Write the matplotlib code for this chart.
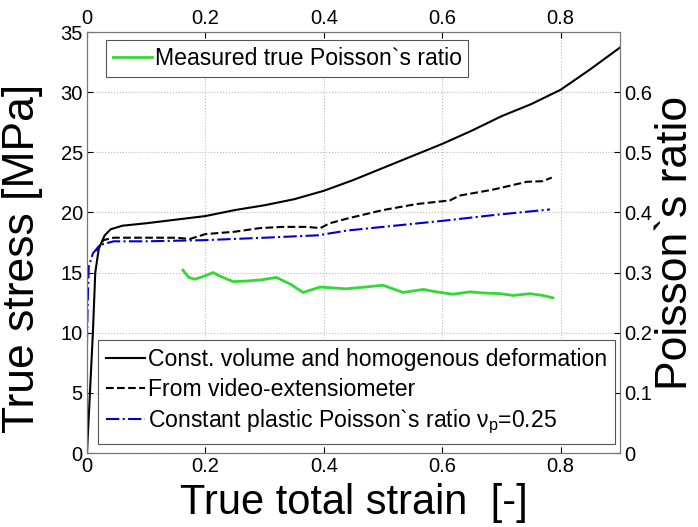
import matplotlib.pyplot as plt
import numpy as np

# dados
eps_cv = [0, 0.005, 0.01, 0.014, 0.02, 0.03, 0.04, 0.06, 0.1, 0.2, 0.25, 0.3, 0.35, 0.4,
          0.45, 0.5, 0.55, 0.6, 0.65, 0.7, 0.75, 0.8, 0.85, 0.9]
sig_cv = [0, 5, 10, 15, 17, 18.1, 18.6, 18.9, 19.1, 19.7, 20.2, 20.6, 21.1, 21.8,
          22.7, 23.7, 24.7, 25.7, 26.8, 28.0, 29.0, 30.2, 31.9, 33.7]

eps_video = [0.015, 0.028, 0.045, 0.1, 0.15, 0.174, 0.2, 0.25, 0.292, 0.33, 0.371,
             0.394, 0.41, 0.44, 0.5, 0.557, 0.613, 0.629, 0.686, 0.743, 0.77, 0.785]
sig_video = [16.8, 17.7, 17.9, 17.9, 17.9, 17.8, 18.2, 18.4, 18.7, 18.8, 18.8,
             18.7, 19.1, 19.5, 20.2, 20.7, 21.0, 21.4, 21.9, 22.55, 22.6, 22.9]

eps_nup = [0.0, 0.001, 0.003, 0.01, 0.022, 0.045, 0.1, 0.2, 0.3, 0.39, 0.44, 0.5, 0.6, 0.69, 0.782]
sig_nup = [9, 12, 15.5, 16.6, 17.3, 17.6, 17.6, 17.7, 17.9, 18.1, 18.5, 18.8, 19.3, 19.8, 20.25]

eps_nu = [0.162, 0.172, 0.182, 0.195, 0.213, 0.225, 0.247, 0.27, 0.295, 0.32, 0.345, 0.365,
          0.394, 0.438, 0.47, 0.5, 0.534, 0.568, 0.59, 0.618, 0.647, 0.67, 0.698, 0.72,
          0.748, 0.77, 0.787]
nu = [0.304, 0.292, 0.289, 0.293, 0.300, 0.294, 0.285, 0.286, 0.288, 0.292, 0.280, 0.267,
      0.276, 0.273, 0.276, 0.279, 0.267, 0.272, 0.268, 0.264, 0.268, 0.266, 0.265, 0.262,
      0.265, 0.262, 0.258]

plt.rcParams['font.family'] = 'Liberation Sans'
plt.rcParams['mathtext.fontset'] = 'custom'
plt.rcParams['mathtext.rm'] = 'Liberation Sans'
plt.rcParams['mathtext.it'] = 'Liberation Sans'
plt.rcParams['xtick.direction'] = 'in'
plt.rcParams['ytick.direction'] = 'in'

fig = plt.figure(figsize=(6.98, 5.27), dpi=100)
ax = fig.add_axes([0.1246, 0.1404, 0.7634, 0.7988])

l1, = ax.plot(eps_cv, sig_cv, color='k', lw=1.5, linestyle='solid',
              label='Const. volume and homogenous deformation')
l2, = ax.plot(eps_video, sig_video, color='k', lw=1.5, linestyle='--',
              label='From video-extensiometer')
l3, = ax.plot(eps_nup, sig_nup, color=(0, 0, 0.8), lw=1.5, linestyle='-.',
              label=r'Constant plastic Poisson`s ratio $\nu_{\rm p}$=0.25')

ax.set_xlim(0, 0.9)
ax.set_ylim(0, 35)
ax.set_xticks(np.arange(0, 0.81, 0.2))
ax.set_xticklabels(['0', '0.2', '0.4', '0.6', '0.8'])
ax.set_yticks(np.arange(0, 36, 5))
ax.tick_params(labelsize=14.5, top=True, labeltop=True, length=4, pad=3, colors='k')
ax.grid(True, linestyle=':', color='#bbbbbb', lw=0.8)
ax.set_xlabel('True total strain  [-]', fontsize=30, labelpad=5)
ax.set_ylabel('True stress [MPa]', fontsize=32)
ax.yaxis.set_label_coords(-0.082, 0.463)
for s in ax.spines.values():
    s.set_color('#777777')

ax2 = ax.twinx()
l4, = ax2.plot(eps_nu, nu, color=(0.2, 0.85, 0.2), lw=2, label='Measured true Poisson`s ratio')
ax2.set_ylim(0, 0.7)
ax2.set_yticks(np.arange(0, 0.61, 0.1))
ax2.set_yticklabels(['0', '0.1', '0.2', '0.3', '0.4', '0.5', '0.6'])
ax2.tick_params(labelsize=14.5, length=4, pad=3)
ax2.set_ylabel('Poisson`s ratio', fontsize=32, labelpad=2)
for s in ax2.spines.values():
    s.set_color('#777777')

# legendas
leg1 = ax2.legend(handles=[l4], loc='upper left', bbox_to_anchor=(0.036, 0.981),
                  fontsize=16.6, fancybox=False, edgecolor='#555555', framealpha=1,
                  handlelength=1.7, handletextpad=0.1, borderpad=0.3, borderaxespad=0)
leg1.get_frame().set_linewidth(0.8)
leg2 = ax2.legend(handles=[l1, l2, l3], loc='lower left', bbox_to_anchor=(0.021, 0.021),
                  fontsize=16.6, fancybox=False, edgecolor='#555555', framealpha=1,
                  handlelength=1.7, handletextpad=0.1, borderpad=0.35, labelspacing=0.3,
                  borderaxespad=0)
leg2.get_frame().set_linewidth(0.8)
ax2.add_artist(leg1)

plt.savefig('out.png', dpi=100)
